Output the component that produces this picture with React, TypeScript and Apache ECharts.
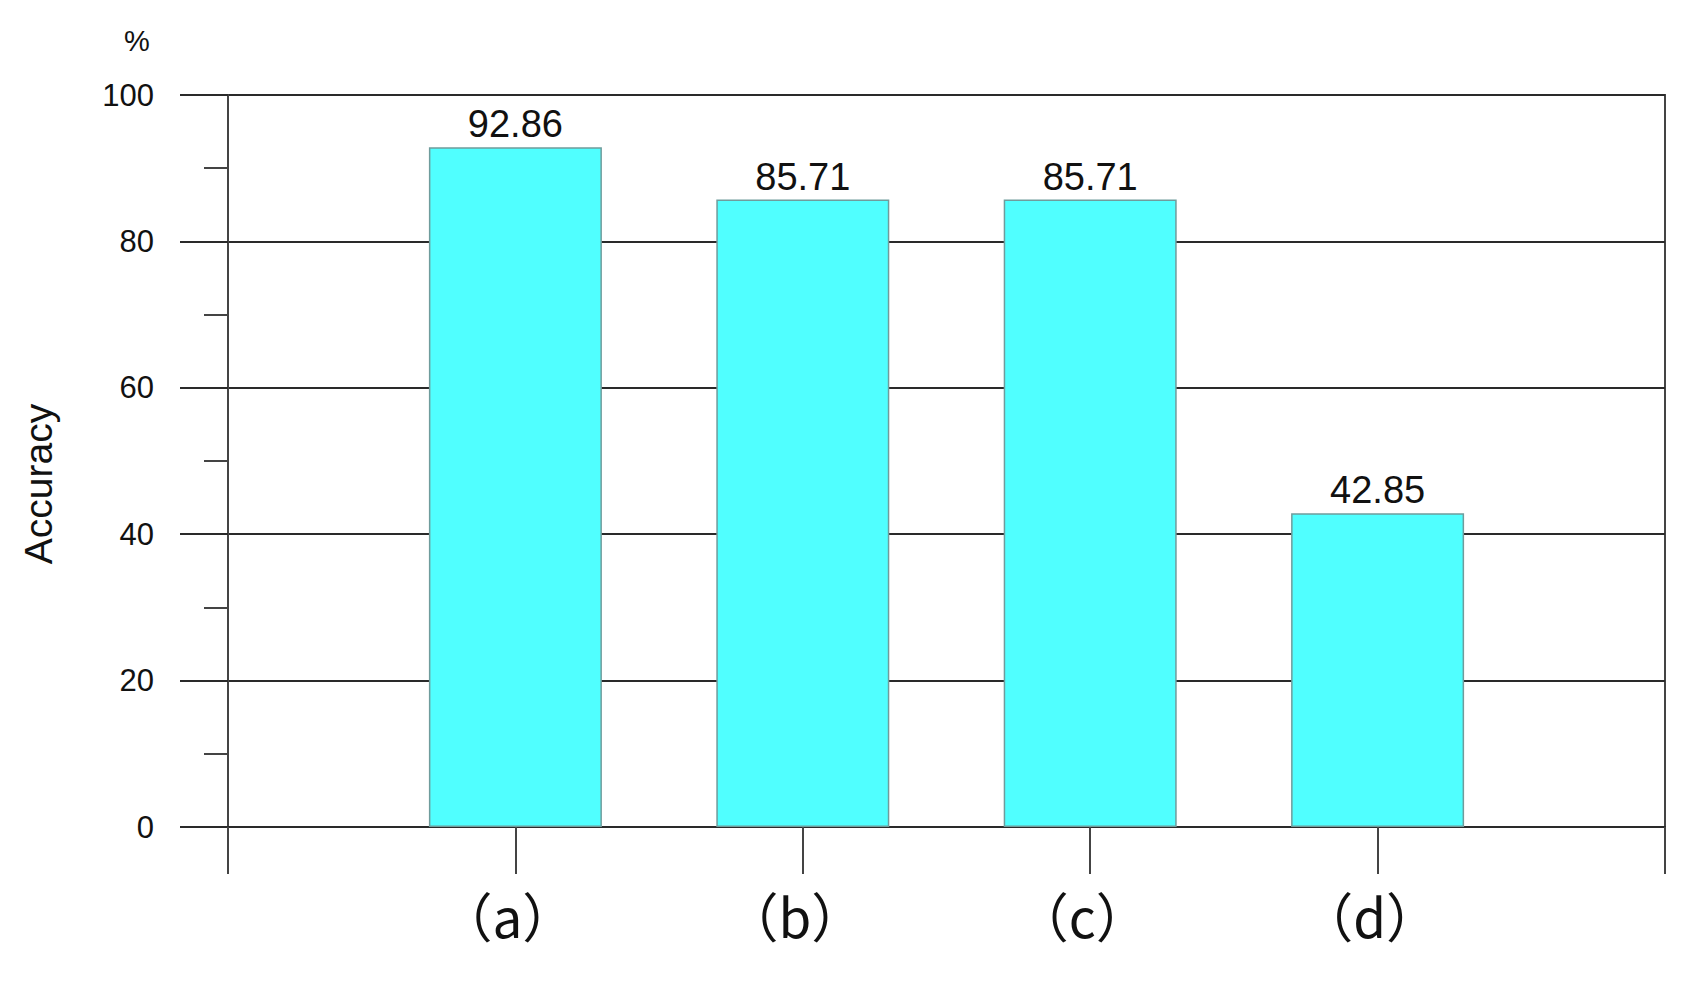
import React, { useEffect, useRef } from "react";
import * as echarts from "echarts";

const categories = ["（a）", "（b）", "（c）", "（d）"];
const accuracy = [92.86, 85.71, 85.71, 42.85];
const positions = [1, 2, 3, 4];
const yTicks = [0, 20, 40, 60, 80, 100];

const LINE = "#2a2a2a";
const AXIS = "#444444";
const FONT = "'Liberation Sans', Arial, sans-serif";

export default function App() {
  const ref = useRef<HTMLDivElement>(null);
  useEffect(() => {
    if (!ref.current) return;
    const chart = echarts.init(ref.current, undefined, { renderer: "svg" });
    chart.setOption({
      animation: false,
      backgroundColor: "#ffffff",
      grid: {
        left: 228,
        right: 41,
        top: 95,
        bottom: 155,
        show: true,
        borderColor: AXIS,
        borderWidth: 2,
        backgroundColor: "transparent",
      },
      xAxis: {
        type: "value",
        min: 0,
        max: 5,
        interval: 1,
        axisLine: { show: true, lineStyle: { color: LINE, width: 2 } },
        axisTick: { show: true, length: 47, inside: false, lineStyle: { color: AXIS, width: 2 } },
        splitLine: { show: false },
        axisLabel: {
          margin: 61,
          fontSize: 53,
          lineHeight: 53,
          color: "#111",
          padding: [0, 16, 0, 0],
          fontFamily: "'Noto Sans CJK SC', sans-serif",
          formatter: (v: number) => categories[Math.round(v) - 1] ?? "",
        },
      },
      yAxis: {
        type: "value",
        min: yTicks[0],
        max: yTicks[yTicks.length - 1],
        interval: 20,
        axisLine: { show: true, lineStyle: { color: AXIS, width: 2 } },
        axisTick: { show: true, length: 48, inside: false, lineStyle: { color: LINE, width: 2 } },
        minorTick: { show: true, splitNumber: 2, length: 24, lineStyle: { color: AXIS, width: 2 } },
        splitLine: { show: true, lineStyle: { color: LINE, width: 2 } },
        axisLabel: {
          margin: 74,
          fontSize: 31,
          color: "#111",
          fontFamily: FONT,
        },
      },
      series: [
        {
          type: "bar",
          barWidth: 173,
          data: positions.map((p, i) => [p, accuracy[i]]),
          itemStyle: { color: "#50ffff", borderColor: "#6f9c9c", borderWidth: 1.5 },
          label: {
            show: true,
            position: "top",
            distance: 4,
            fontSize: 38,
            color: "#111",
            fontFamily: FONT,
            formatter: (p: any) => accuracy[p.dataIndex].toFixed(2),
          },
          z: 1,
        },
      ],
      graphic: [
        {
          type: "text",
          x: 38,
          y: 484,
          rotation: Math.PI / 2,
          style: {
            text: "Accuracy",
            fontSize: 39,
            fontFamily: FONT,
            fill: "#111",
            align: "center",
            verticalAlign: "middle",
          },
        },
        {
          type: "text",
          x: 137,
          y: 41,
          style: {
            text: "%",
            fontSize: 29,
            fontFamily: FONT,
            fill: "#111",
            align: "center",
            verticalAlign: "middle",
          },
        },
      ],
    });
    return () => chart.dispose();
  }, []);
  return (
    <div
      ref={ref}
      style={{ position: "fixed", left: 0, top: 0, width: 1706, height: 982, background: "#fff" }}
    />
  );
}
